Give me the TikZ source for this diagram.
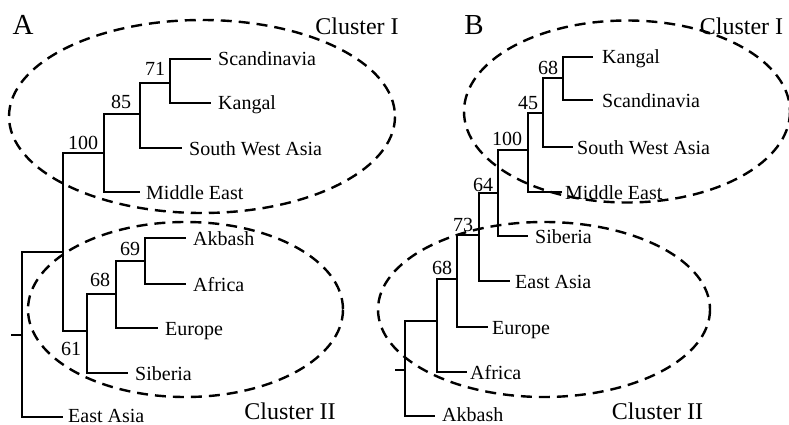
\documentclass[tikz,border=0pt]{standalone}
\usepackage{fontspec}
\setmainfont{Liberation Serif}
\begin{document}
\begin{tikzpicture}[x=1pt,y=-1pt,
  br/.style={line width=1.9pt},
  clus/.style={line width=2.4pt, dash pattern=on 11pt off 7pt},
  leaf/.style={anchor=base west, inner sep=0pt, font=\fontsize{20}{24}\selectfont},
  boot/.style={anchor=base, inner sep=0pt, font=\fontsize{20}{24}\selectfont},
  cname/.style={anchor=base, inner sep=0pt, font=\fontsize{24}{28}\selectfont},
  panel/.style={anchor=base, inner sep=0pt, font=\fontsize{29}{34}\selectfont}]
\useasboundingbox (0,0) rectangle (789,425);

% ---------- Panel A ----------
\node[panel] (pA) at (23,35) {A};
\draw[clus] (202,116.5) ellipse [x radius=193, y radius=96.5];
\draw[clus] (185.5,309.5) ellipse [x radius=157.5, y radius=87.5];
\node[cname] (cAI) at (357,35) {Cluster I};
\node[cname] (cAII) at (290,419) {Cluster II};

\coordinate (aStub) at (11,335);
\coordinate (aRoot) at (22,335);
\coordinate (aN1) at (63,252);
\coordinate (aN100) at (104,153);
\coordinate (aN85) at (140,114);
\coordinate (aN71) at (170,83);
\coordinate (aN61) at (87,331);
\coordinate (aN68) at (116,294);
\coordinate (aN69) at (145,261);
\coordinate (aEScand) at (211,59);
\coordinate (aEKang) at (211,103);
\coordinate (aESWA) at (182,148);
\coordinate (aEME) at (140,192);
\coordinate (aEAkb) at (186,238);
\coordinate (aEAfr) at (186,284);
\coordinate (aEEur) at (158,328);
\coordinate (aESib) at (128,373);
\coordinate (aEEA) at (63,417);

\draw[br] (aStub) -- (aRoot);
\draw[br] (aRoot) |- (aN1);
\draw[br] (aRoot) |- (aEEA);
\draw[br] (aN1) |- (aN100);
\draw[br] (aN1) |- (aN61);
\draw[br] (aN100) |- (aN85);
\draw[br] (aN100) |- (aEME);
\draw[br] (aN85) |- (aN71);
\draw[br] (aN85) |- (aESWA);
\draw[br] (aN71) |- (aEScand);
\draw[br] (aN71) |- (aEKang);
\draw[br] (aN61) |- (aN68);
\draw[br] (aN61) |- (aESib);
\draw[br] (aN68) |- (aN69);
\draw[br] (aN68) |- (aEEur);
\draw[br] (aN69) |- (aEAkb);
\draw[br] (aN69) |- (aEAfr);

\node[leaf] (aTScand) at (218,66) {Scandinavia};
\node[leaf] (aTKang) at (218,110) {Kangal};
\node[leaf] (aTSWA) at (189,155) {South West Asia};
\node[leaf] (aTME) at (146,199) {Middle East};
\node[leaf] (aTAkb) at (193,245) {Akbash};
\node[leaf] (aTAfr) at (193,291) {Africa};
\node[leaf] (aTEur) at (165,335) {Europe};
\node[leaf] (aTSib) at (135,380) {Siberia};
\node[leaf] (aTEA) at (68,422) {East Asia};

\node[boot] (aB71) at (155,76) {71};
\node[boot] (aB85) at (121,109) {85};
\node[boot] (aB100) at (83,149) {100};
\node[boot] (aB69) at (130,255) {69};
\node[boot] (aB68) at (100,286) {68};
\node[boot] (aB61) at (71,355) {61};

% ---------- Panel B ----------
\node[panel] (pB) at (474,35) {B};
\draw[clus] (627,111.5) ellipse [x radius=163, y radius=91];
\draw[clus] (544,309.5) ellipse [x radius=166, y radius=87.5];
\node[cname] (cBI) at (741.5,35) {Cluster I};
\node[cname] (cBII) at (657.5,419) {Cluster II};

\coordinate (bStub) at (395,370);
\coordinate (bRoot) at (405,370);
\coordinate (bN1) at (437,321);
\coordinate (bN68a) at (457,279);
\coordinate (bN73) at (479,235);
\coordinate (bN64) at (498,193);
\coordinate (bN100) at (528,150);
\coordinate (bN45) at (543,113);
\coordinate (bN68b) at (563,78);
\coordinate (bEKang) at (593,57);
\coordinate (bEScand) at (593,100);
\coordinate (bESWA) at (573,147);
\coordinate (bEME) at (562,192);
\coordinate (bESib) at (528,236);
\coordinate (bEEA) at (510,281);
\coordinate (bEEur) at (488,327);
\coordinate (bEAfr) at (467,372);
\coordinate (bEAkb) at (435,416);

\draw[br] (bStub) -- (bRoot);
\draw[br] (bRoot) |- (bN1);
\draw[br] (bRoot) |- (bEAkb);
\draw[br] (bN1) |- (bN68a);
\draw[br] (bN1) |- (bEAfr);
\draw[br] (bN68a) |- (bN73);
\draw[br] (bN68a) |- (bEEur);
\draw[br] (bN73) |- (bN64);
\draw[br] (bN73) |- (bEEA);
\draw[br] (bN64) |- (bN100);
\draw[br] (bN64) |- (bESib);
\draw[br] (bN100) |- (bN45);
\draw[br] (bN100) |- (bEME);
\draw[br] (bN45) |- (bN68b);
\draw[br] (bN45) |- (bESWA);
\draw[br] (bN68b) |- (bEKang);
\draw[br] (bN68b) |- (bEScand);

\node[leaf] (bTKang) at (602,64) {Kangal};
\node[leaf] (bTScand) at (602,107) {Scandinavia};
\node[leaf] (bTSWA) at (577,154) {South West Asia};
\node[leaf] (bTME) at (565,199) {Middle East};
\node[leaf] (bTSib) at (535,243) {Siberia};
\node[leaf] (bTEA) at (515,288) {East Asia};
\node[leaf] (bTEur) at (492,334) {Europe};
\node[leaf] (bTAfr) at (470,379) {Africa};
\node[leaf] (bTAkb) at (442,421) {Akbash};

\node[boot] (bB68b) at (548,75) {68};
\node[boot] (bB45) at (528,110) {45};
\node[boot] (bB100) at (507,145) {100};
\node[boot] (bB64) at (483,191) {64};
\node[boot] (bB73) at (463,231) {73};
\node[boot] (bB68a) at (442,274) {68};
\end{tikzpicture}
\end{document}
